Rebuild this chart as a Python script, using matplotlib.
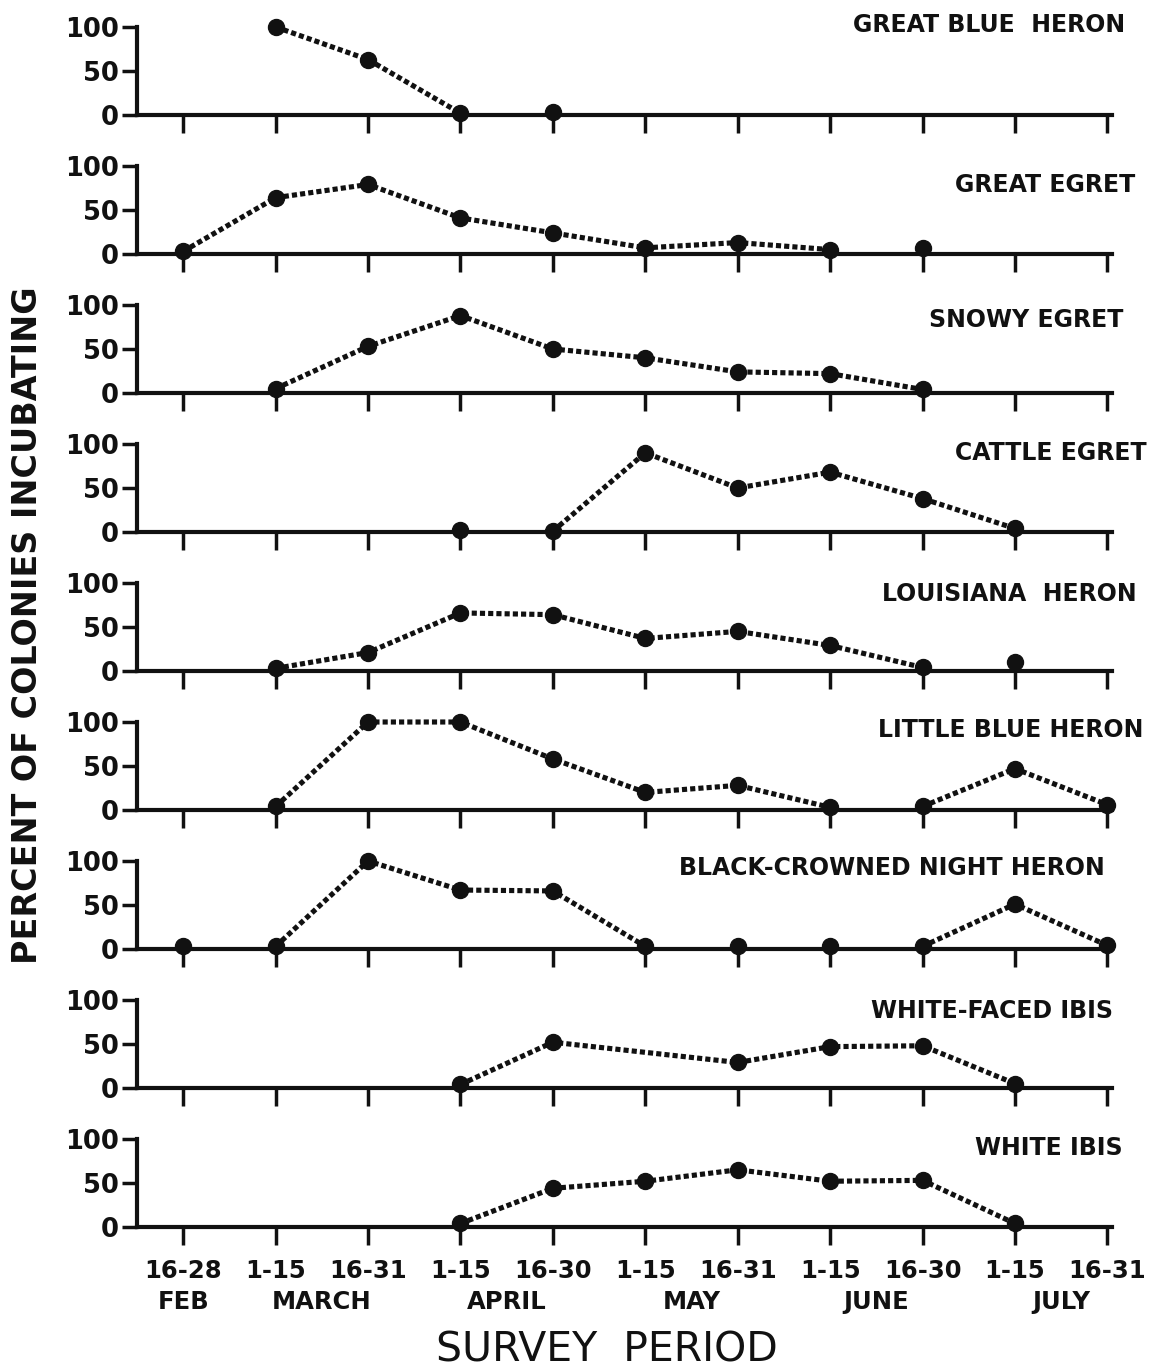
import numpy as np
import matplotlib
matplotlib.use("Agg")
import matplotlib.pyplot as plt
from matplotlib.transforms import blended_transform_factory

nan = np.nan

# ── Data ────────────────────────────────────────────────────────
periods = ["16-28", "1-15", "16-31", "1-15", "16-30", "1-15",
           "16-31", "1-15", "16-30", "1-15", "16-31"]
months = ["FEB", "MARCH", "APRIL", "MAY", "JUNE", "JULY"]
month_periods = [(0, 0), (1, 2), (3, 4), (5, 6), (7, 8), (9, 10)]

species = ["GREAT BLUE  HERON", "GREAT EGRET", "SNOWY EGRET", "CATTLE EGRET",
           "LOUISIANA  HERON", "LITTLE BLUE HERON", "BLACK-CROWNED NIGHT HERON",
           "WHITE-FACED IBIS", "WHITE IBIS"]

great_blue_heron  = [nan, 100, 63, 2, 3, nan, nan, nan, nan, nan, nan]
great_egret       = [3, 64, 79, 41, 24, 7, 13, 5, 7, nan, nan]
snowy_egret       = [nan, 5, 53, 88, 50, 40, 24, 22, 4, nan, nan]
cattle_egret      = [nan, nan, nan, 2, 1, 90, 50, 68, 38, 4, nan]
louisiana_heron   = [nan, 3, 21, 66, 64, 37, 45, 29, 4, 10, nan]
little_blue_heron = [nan, 4, 100, 100, 58, 20, 28, 3, 4, 47, 6]
black_crowned     = [3, 3, 100, 67, 66, 3, 3, 3, 3, 51, 4]
white_faced_ibis  = [nan, nan, nan, 4, 52, nan, 29, 47, 48, 5, nan]
white_ibis        = [nan, nan, nan, 4, 44, 52, 65, 52, 53, 4, nan]

# connected runs (first, last period index) for each species
great_blue_runs  = [(1, 3)]
great_egret_runs = [(0, 7)]
snowy_runs       = [(1, 8)]
cattle_runs      = [(4, 9)]
louisiana_runs   = [(1, 8)]
little_blue_runs = [(1, 7), (8, 10)]
black_crn_runs   = [(1, 5), (8, 10)]
wf_ibis_runs     = [(3, 9)]
w_ibis_runs      = [(3, 9)]

series = [great_blue_heron, great_egret, snowy_egret, cattle_egret, louisiana_heron,
          little_blue_heron, black_crowned, white_faced_ibis, white_ibis]
runs = [great_blue_runs, great_egret_runs, snowy_runs, cattle_runs, louisiana_runs,
        little_blue_runs, black_crn_runs, wf_ibis_runs, w_ibis_runs]

# ── Layout (pixels) ─────────────────────────────────────────────
W, H = 1150, 1372
label_x = [1125, 1135, 1123, 1147, 1137, 1143, 1105, 1113, 1123]
label_y = [25, 185, 320, 453, 594, 730, 868, 1011, 1148]

FONT = ["DejaVu Sans"]
INK = "#111111"

fig = plt.figure(figsize=(W / 100, H / 100), dpi=100)
x = np.arange(len(periods))

for i, (vals, segs) in enumerate(zip(series, runs)):
    y0 = 115 + 139 * i
    ax = fig.add_axes([137 / W, 1 - y0 / H, (1112 - 137) / W, 88 / H])
    vals = np.array(vals, dtype=float)

    for a, b in segs:
        xs, ys = x[a:b + 1], vals[a:b + 1]
        ok = ~np.isnan(ys)
        ax.plot(xs[ok], ys[ok], color=INK, linewidth=3.7,
                linestyle=(0, (1.0, 0.6)), dash_capstyle="butt", clip_on=False)
    ok = ~np.isnan(vals)
    ax.plot(x[ok], vals[ok], "o", color=INK, markersize=11.5, clip_on=False, zorder=3)

    ax.set_xlim(-0.5, 10.05)
    ax.set_ylim(0, 100)
    for s in ["top", "right"]:
        ax.spines[s].set_visible(False)
    for s in ["left", "bottom"]:
        ax.spines[s].set_linewidth(3)
        ax.spines[s].set_color(INK)
    ax.set_yticks([0, 50, 100])
    ax.set_yticklabels(["0", "50", "100"], fontsize=18.5, fontweight="bold", family=FONT)
    ax.tick_params(axis="y", length=11, width=2.5, pad=2, colors=INK)
    ax.set_xticks(x)
    ax.tick_params(axis="x", length=13, width=2.5, pad=10, colors=INK)
    ax.patch.set_alpha(0)

    if i == len(series) - 1:
        ax.set_xticklabels(periods, fontsize=17.5, fontweight="bold", family=FONT)
        tr = blended_transform_factory(ax.transData, ax.transAxes)
        for m, (a, b) in zip(months, month_periods):
            ax.text((a + b) / 2, -0.85, m, transform=tr, ha="center", va="center",
                    fontsize=17.5, fontweight="bold", family=FONT, color=INK)
    else:
        ax.set_xticklabels([])

    fig.text(label_x[i] / W, 1 - label_y[i] / H, species[i], ha="right", va="center",
             fontsize=17, fontweight="bold", family=FONT, color=INK)

fig.text(28 / W, 1 - 625 / H, "PERCENT OF COLONIES INCUBATING", rotation=90,
         ha="center", va="center", fontsize=24, fontweight="bold", family=FONT, color=INK)
fig.text(607 / W, 1 - 1361 / H, "SURVEY  PERIOD", ha="center", va="baseline",
         fontsize=29.5, family=FONT, color=INK)

plt.savefig("out.png", dpi=100)
